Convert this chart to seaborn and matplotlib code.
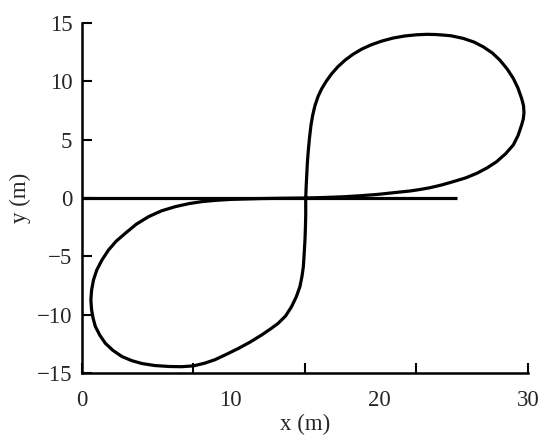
import numpy as np
import pandas as pd
import matplotlib
matplotlib.use("Agg")
import matplotlib.pyplot as plt
import seaborn as sns

# figure-8 trajectory (metres)
path_x = [15.05, 15.08, 15.12, 15.16, 15.22, 15.30, 15.40, 15.52, 15.67, 15.88,
          16.12, 16.43, 16.80, 17.22, 17.69, 18.22, 18.81, 19.45, 20.16, 20.92,
          21.72, 22.50, 23.20, 23.86, 24.80, 25.65, 26.38, 26.99, 27.60, 28.11,
          28.60, 29.01, 29.33, 29.57, 29.70, 29.73, 29.68, 29.57, 29.33, 29.01,
          28.50, 27.89, 27.25, 26.55, 25.80, 24.97, 24.20, 23.41, 22.70, 22.06,
          21.00, 19.90, 18.80, 17.50, 16.20, 15.05,
          13.50, 12.00, 10.00, 9.00, 8.07, 7.20, 6.28, 5.35, 4.48, 3.65,
          2.92, 2.30, 1.79, 1.35, 1.00, 0.78, 0.65, 0.60, 0.65, 0.75,
          0.90, 1.20, 1.57, 2.08, 2.69, 3.35, 4.04, 4.90, 5.83, 6.70,
          7.50, 8.25, 8.95, 9.70, 10.50, 11.30, 12.09, 12.70, 13.20, 13.70,
          14.10, 14.42, 14.66, 14.80, 14.89, 14.95, 15.00, 15.03, 15.05, 15.05]
path_y = [0.00, 1.00, 2.00, 3.00, 4.00, 5.10, 6.20, 7.10, 7.90, 8.70,
          9.35, 10.00, 10.65, 11.25, 11.80, 12.30, 12.75, 13.12, 13.44, 13.70,
          13.88, 13.98, 14.02, 14.00, 13.90, 13.67, 13.35, 12.95, 12.42, 11.81,
          11.05, 10.25, 9.40, 8.53, 7.90, 7.30, 6.75, 6.25, 5.35, 4.54,
          3.80, 3.11, 2.58, 2.11, 1.72, 1.40, 1.12, 0.88, 0.72, 0.60,
          0.46, 0.31, 0.20, 0.10, 0.04, 0.00,
          -0.02, -0.05, -0.12, -0.20, -0.31, -0.48, -0.74, -1.10, -1.60, -2.25,
          -3.02, -3.70, -4.45, -5.30, -6.16, -7.00, -7.88, -8.75, -9.59, -10.30,
          -11.00, -11.75, -12.44, -13.05, -13.58, -13.93, -14.18, -14.35, -14.43, -14.45,
          -14.38, -14.15, -13.85, -13.40, -12.90, -12.35, -11.73, -11.20, -10.73, -10.10,
          -9.30, -8.45, -7.59, -6.70, -5.88, -4.70, -3.60, -2.50, -1.50, 0.00]

# straight reference line
ref_x = [0.0, 25.2]
ref_y = [0.0, 0.0]

x_ticks = [0, 7.5, 15, 22.5, 30]
x_label_pos = [0, 10, 20, 30]
x_label_txt = ["0", "10", "20", "30"]
y_ticks = [-15, -10, -5, 0, 5, 10, 15]

sns.set_theme(style="ticks")
plt.rcParams['font.family'] = ['Liberation Serif', 'DejaVu Serif']

fig, ax = plt.subplots(figsize=(5.5, 4.4), dpi=100)
fig.subplots_adjust(left=0.149, right=0.96, bottom=0.152, top=0.948)

path = pd.DataFrame({'x': path_x, 'y': path_y})
ref = pd.DataFrame({'x': ref_x, 'y': ref_y})

sns.lineplot(data=ref, x='x', y='y', sort=False, estimator=None,
             color='black', linewidth=2.3, ax=ax)
sns.lineplot(data=path, x='x', y='y', sort=False, estimator=None,
             color='black', linewidth=2.3, ax=ax)
for ln in ax.lines:
    ln.set_solid_joinstyle('round')
    ln.set_solid_capstyle('butt')

ax.set_xlim(0, 30)
ax.set_ylim(-15, 15)
sns.despine(ax=ax)
for s in ['left', 'bottom']:
    ax.spines[s].set_linewidth(1.8)
    ax.spines[s].set_color('black')

# tick marks at quarters, labels at 0/10/20/30 (as in the original)
ax.xaxis.remove_overlapping_locs = False
ax.set_xticks(x_ticks)
ax.set_xticklabels([])
ax.set_xticks(x_label_pos, minor=True)
ax.set_xticklabels(x_label_txt, minor=True)
ax.set_yticks(y_ticks)
ax.set_yticklabels([f"{v}".replace('-', '\u2212') for v in y_ticks])

ax.tick_params(axis='both', which='major', direction='in', length=7,
               width=1.5, color='black', labelsize=16.5, pad=7)
ax.tick_params(axis='x', which='minor', length=0, labelsize=16.5, pad=12)

ax.set_xlabel('x (m)', fontsize=16.5, labelpad=2)
ax.set_ylabel('y (m)', fontsize=16.5, labelpad=4)

fig.savefig('out.png', dpi=100)
